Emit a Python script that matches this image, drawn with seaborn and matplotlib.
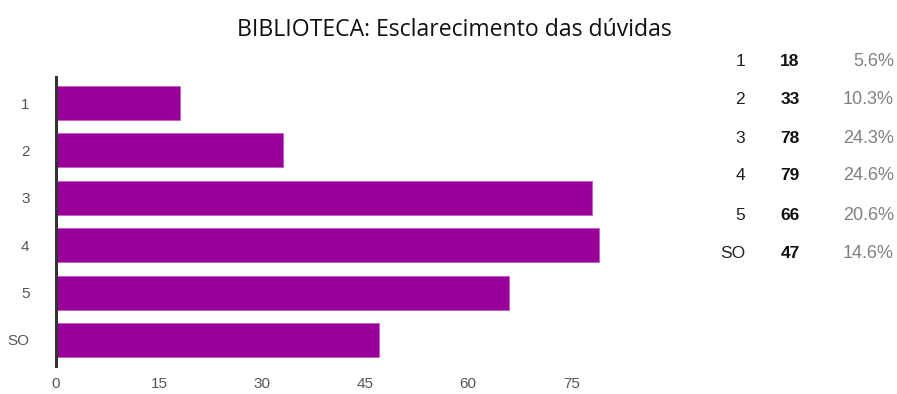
import matplotlib
matplotlib.use("Agg")
import matplotlib.pyplot as plt
import seaborn as sns
import pandas as pd

title = "BIBLIOTECA: Esclarecimento das dúvidas"
categories = ["1", "2", "3", "4", "5", "SO"]
counts = [18, 33, 78, 79, 66, 47]
percents = ["5.6%", "10.3%", "24.3%", "24.6%", "20.6%", "14.6%"]
xticks = [0, 15, 30, 45, 60, 75]

sns.set_theme(style="white")
plt.rcParams['font.family'] = ['Liberation Sans', 'DejaVu Sans']

df = pd.DataFrame({"cat": categories, "n": counts})

W, H = 897, 394
fig = plt.figure(figsize=(W / 100, H / 100), dpi=100)
left_px, right_px, top_px, bottom_px = 56, 640, 77, 366
ax = fig.add_axes([left_px / W, 1 - bottom_px / H, (right_px - left_px) / W, (bottom_px - top_px) / H])

sns.barplot(data=df, x="n", y="cat", orient="h", color="#990099", saturation=1,
            width=0.72, ax=ax, edgecolor="#c060c0", linewidth=0.6)

ax.set_xlim(0, 85)
ax.set_ylim(5.55, -0.55)
ax.set_xticks(xticks)
ax.set_xticklabels([str(t) for t in xticks])
ax.set_xlabel("")
ax.set_ylabel("")
for s in ["top", "right", "bottom"]:
    ax.spines[s].set_visible(False)
ax.spines["left"].set_color("#333333")
ax.spines["left"].set_linewidth(2.2)
ax.tick_params(axis="both", length=0, labelsize=11, labelcolor="#555555")
ax.tick_params(axis="x", pad=8)
ax.tick_params(axis="y", pad=19)
ax.grid(False)

fig.text(454 / W, 1 - 30 / H, title, ha="center", va="center", fontsize=16.6,
         family=["Open Sans", "DejaVu Sans"], color="#111111")

row_y = [61, 100, 138, 176, 215, 254]
for cat, n, p, y in zip(categories, counts, percents, row_y):
    yf = 1 - y / H
    fig.text(745 / W, yf, cat, ha="right", va="center", fontsize=12.5, color="#222222")
    fig.text(790 / W, yf, str(n), ha="center", va="center", fontsize=12.5, color="#111111", fontweight="bold")
    fig.text(894 / W, yf, p, ha="right", va="center", fontsize=13, color="#808080")

fig.savefig("out.png", dpi=100)
